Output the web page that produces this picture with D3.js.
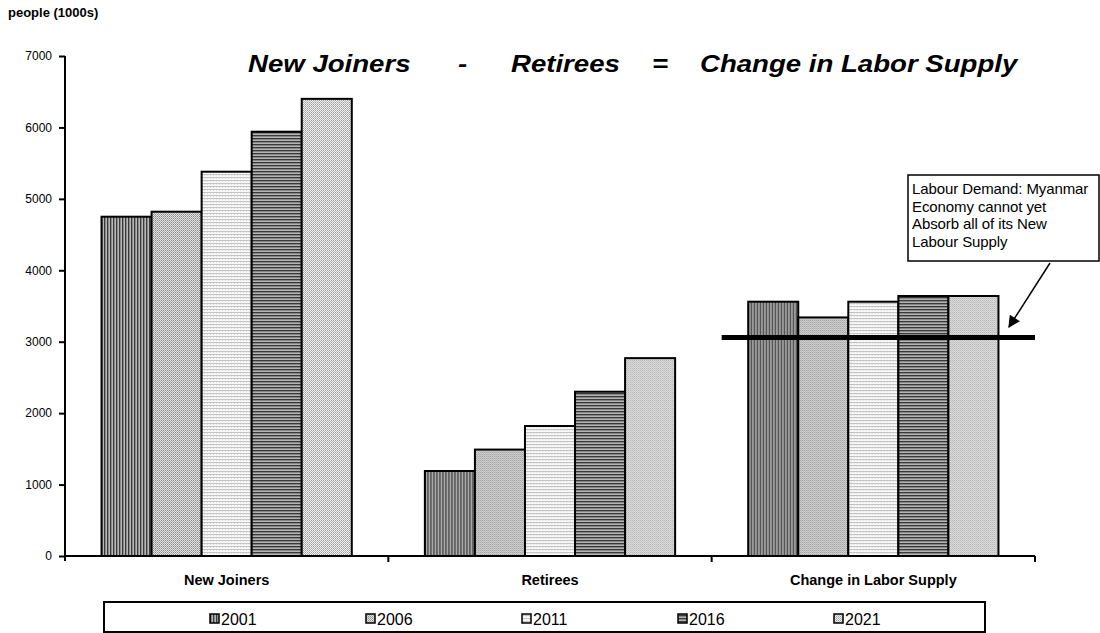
<!DOCTYPE html>
<html>
<head>
<meta charset="utf-8">
<script src="https://cdn.jsdelivr.net/npm/d3@7"></script>
<style>
  html, body { margin: 0; padding: 0; background: #fff; }
  svg { display: block; font-family: "Liberation Sans", Arial, sans-serif; }
</style>
</head>
<body>
<svg id="chart" width="1100" height="633"></svg>
<script>
// ---- data ----
const categories = ["New Joiners", "Retirees", "Change in Labor Supply"];
const years = ["2001", "2006", "2011", "2016", "2021"];
const newJoiners = [4750, 4820, 5380, 5940, 6400];
const retirees = [1190, 1490, 1820, 2300, 2770];
const laborChange = [3560, 3340, 3560, 3640, 3640];
const labourDemand = 3060;
const yTicks = [0, 1000, 2000, 3000, 4000, 5000, 6000, 7000];
const yLabel = "people (1000s)";
const titleParts = ["New Joiners", "-", "Retirees", "=", "Change in Labor Supply"];
const noteLines = ["Labour Demand: Myanmar", "Economy cannot yet", "Absorb all of its New", "Labour Supply"];

const seriesByCat = [newJoiners, retirees, laborChange];

const svg = d3.select("#chart");
const defs = svg.append("defs");

// ---- patterns (one per year) ----
function pat(id, w, h, draw) {
  const p = defs.append("pattern").attr("id", id).attr("patternUnits", "userSpaceOnUse")
    .attr("width", w).attr("height", h);
  draw(p);
}
pat("p2001", 3, 3, p => {
  p.append("rect").attr("width", 3).attr("height", 3).attr("fill", "#b8b8b8");
  p.append("rect").attr("x", 0).attr("width", 1).attr("height", 3).attr("fill", "#3a3a3a");
  p.append("rect").attr("x", 1).attr("width", 1).attr("height", 3).attr("fill", "#8a8a8a");
});
pat("p2006", 2, 2, p => {
  p.append("rect").attr("width", 2).attr("height", 2).attr("fill", "#e2e2e2");
  p.append("rect").attr("x", 0).attr("y", 0).attr("width", 1).attr("height", 1).attr("fill", "#8c8c8c");
  p.append("rect").attr("x", 1).attr("y", 1).attr("width", 1).attr("height", 1).attr("fill", "#a8a8a8");
});
pat("p2011", 3, 3, p => {
  p.append("rect").attr("width", 3).attr("height", 3).attr("fill", "#f8f8f8");
  p.append("rect").attr("y", 0).attr("width", 3).attr("height", 1).attr("fill", "#c4c4c4");
  p.append("rect").attr("x", 1).attr("y", 1).attr("width", 1).attr("height", 1).attr("fill", "#dddddd");
});
pat("p2016", 3, 3, p => {
  p.append("rect").attr("width", 3).attr("height", 3).attr("fill", "#b4b4b4");
  p.append("rect").attr("y", 0).attr("width", 3).attr("height", 1).attr("fill", "#3a3a3a");
  p.append("rect").attr("y", 1).attr("width", 3).attr("height", 1).attr("fill", "#858585");
});
pat("p2021", 2, 2, p => {
  p.append("rect").attr("width", 2).attr("height", 2).attr("fill", "#eeeeee");
  p.append("rect").attr("x", 0).attr("y", 0).attr("width", 1).attr("height", 1).attr("fill", "#a0a0a0");
  p.append("rect").attr("x", 1).attr("y", 1).attr("width", 1).attr("height", 1).attr("fill", "#b8b8b8");
});

// arrow marker
defs.append("marker").attr("id", "arrow").attr("viewBox", "0 0 10 10")
  .attr("refX", 9).attr("refY", 5)
  .attr("markerUnits", "userSpaceOnUse").attr("orient", "auto")
  .attr("markerWidth", 14).attr("markerHeight", 12)
  .append("path").attr("d", "M0,0 L10,5 L0,10 Z").attr("fill", "#000");

// ---- scales ----
const plotLeft = 65, plotRight = 1035, plotTop = 56, plotBottom = 556;
const x0 = d3.scaleBand().domain(categories).range([plotLeft, plotRight]).padding(0);
const bw = x0.bandwidth();
const x1 = d3.scaleBand().domain(years).range([bw * 0.113, bw * 0.887]).padding(0);
const y = d3.scaleLinear().domain([0, 7000]).range([plotBottom, plotTop]);

// ---- bars ----
const groups = svg.append("g").selectAll("g").data(categories).join("g")
  .attr("transform", d => `translate(${x0(d)},0)`);
groups.selectAll("rect")
  .data((c, ci) => years.map((yr, i) => ({ yr, v: seriesByCat[ci][i] })))
  .join("rect")
  .attr("x", d => x1(d.yr))
  .attr("width", x1.bandwidth())
  .attr("y", d => y(d.v))
  .attr("height", d => y(0) - y(d.v))
  .attr("fill", d => `url(#p${d.yr})`)
  .attr("stroke", "#000")
  .attr("stroke-width", 2);

// ---- y axis ----
const yAxis = d3.axisLeft(y).tickValues(yTicks).tickSize(6).tickPadding(7).tickFormat(d3.format("d"));
const gy = svg.append("g").attr("transform", `translate(${plotLeft},0)`).call(yAxis);
gy.select(".domain").attr("stroke", "#000").attr("stroke-width", 2)
  .attr("d", `M0,${plotTop}V${plotBottom + 5}`);
gy.selectAll(".tick line").attr("stroke", "#000").attr("stroke-width", 2);
gy.selectAll(".tick text").attr("font-size", 12).attr("fill", "#000")
  .attr("font-family", "Liberation Sans, Arial, sans-serif");

// ---- x axis ----
const boundaries = categories.slice(1).map(c => x0(c)).concat([plotRight]);
svg.append("line").attr("x1", plotLeft).attr("x2", plotRight)
  .attr("y1", plotBottom).attr("y2", plotBottom).attr("stroke", "#000").attr("stroke-width", 2);
svg.append("g").selectAll("line").data(boundaries).join("line")
  .attr("x1", d => d).attr("x2", d => d).attr("y1", plotBottom).attr("y2", plotBottom + 6)
  .attr("stroke", "#000").attr("stroke-width", 2);
svg.append("g").selectAll("text").data(categories).join("text")
  .attr("x", d => x0(d) + bw / 2).attr("y", 585)
  .attr("text-anchor", "middle").attr("font-size", 14.5).attr("font-weight", "bold")
  .text(d => d);

// ---- y label ----
svg.append("text").attr("x", 8).attr("y", 17).attr("font-size", 13).attr("font-weight", "bold").text(yLabel);

// ---- title ----
const titleX = [248, 458, 511, 652, 700];
svg.append("g").selectAll("text").data(titleParts).join("text")
  .attr("transform", (d, i) => `translate(${titleX[i]},72) scale(1.2,1)`)
  .attr("font-size", 23).attr("font-weight", "bold").attr("font-style", "italic")
  .text(d => d);

// ---- labour demand line ----
const lastCat = categories[categories.length - 1];
svg.append("line")
  .attr("x1", x0(lastCat) + 10).attr("x2", plotRight)
  .attr("y1", y(labourDemand)).attr("y2", y(labourDemand))
  .attr("stroke", "#000").attr("stroke-width", 5);

// ---- annotation ----
svg.append("rect").attr("x", 908).attr("y", 175).attr("width", 191).attr("height", 86)
  .attr("fill", "#fff").attr("stroke", "#000").attr("stroke-width", 1.5);
svg.append("g").selectAll("text").data(noteLines).join("text")
  .attr("x", 912).attr("y", (d, i) => 194 + i * 17.5)
  .attr("font-size", 15).attr("letter-spacing", -0.1).text(d => d);
svg.append("line").attr("x1", 1050).attr("y1", 263).attr("x2", 1009).attr("y2", 327)
  .attr("stroke", "#000").attr("stroke-width", 1.5).attr("marker-end", "url(#arrow)");

// ---- legend ----
svg.append("rect").attr("x", 104).attr("y", 602).attr("width", 881).attr("height", 30)
  .attr("fill", "#fff").attr("stroke", "#000").attr("stroke-width", 2);
const lx = d3.scalePoint().domain(years).range([236, 860]);
const lg = svg.append("g").selectAll("g").data(years).join("g")
  .attr("transform", d => `translate(${lx(d) - 26},618)`);
lg.append("rect").attr("x", 0).attr("y", -4).attr("width", 9).attr("height", 9)
  .attr("fill", d => `url(#p${d})`).attr("stroke", "#000").attr("stroke-width", 1.5);
lg.append("text").attr("x", 11).attr("y", 7).attr("font-size", 16).text(d => d);
</script>
</body>
</html>
